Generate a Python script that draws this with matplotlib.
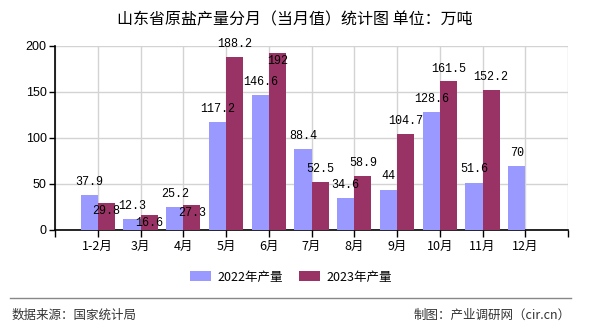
import numpy as np
import matplotlib.pyplot as plt
from matplotlib.lines import Line2D

plt.rcParams['font.family'] = ['Noto Sans CJK SC', 'DejaVu Sans']

months = ["1-2月", "3月", "4月", "5月", "6月", "7月", "8月", "9月", "10月", "11月", "12月"]
prod_2022 = [37.9, 12.3, 25.2, 117.2, 146.6, 88.4, 34.6, 44, 128.6, 51.6, 70]
prod_2023 = [29.8, 16.6, 27.3, 188.2, 192, 52.5, 58.9, 104.7, 161.5, 152.2, None]
# 2023 labels that the source pushed below the bar top to dodge neighbours
label_below_2023 = [True, True, True, False, True, False, False, False, False, False, False]

c22 = "#9999FF"
c23 = "#993366"

fig = plt.figure(figsize=(5.9, 3.3), dpi=100)
ax = fig.add_axes([55 / 590, 1 - 230 / 330, 513 / 590, 184 / 330])

x = np.arange(len(months))
w = 0.4
ax.bar(x - w / 2, prod_2022, width=w, color=c22, label="2022年产量", zorder=3)
x23 = [i for i, v in enumerate(prod_2023) if v is not None]
v23 = [prod_2023[i] for i in x23]
ax.bar(np.array(x23) + w / 2, v23, width=w, color=c23, label="2023年产量", zorder=3)

lab_font = dict(family=['Liberation Mono', 'DejaVu Sans Mono'], fontsize=8.5, color="black")
for i, v in enumerate(prod_2022):
    ax.annotate(f"{v:g}", (i - w / 2, v), xytext=(0, 9.4), textcoords="offset points",
                ha="center", va="center", zorder=5, **lab_font)
for i in x23:
    v = prod_2023[i]
    dy = -5.8 if label_below_2023[i] else 9.0
    ax.annotate(f"{v:g}", (i + w / 2, v), xytext=(0, dy), textcoords="offset points",
                ha="center", va="center", zorder=5, **lab_font)

ax.set_xlim(-1, len(months))
ax.set_ylim(0, 200)
ax.set_yticks([0, 50, 100, 150, 200])
ax.set_xticks(np.arange(-1, len(months) + 1))
ax.set_xticklabels([""] + months + [""])
ax.tick_params(axis="x", length=5, width=1, direction="out", labelsize=9, pad=2)
ax.tick_params(axis="y", length=4, width=1, direction="out", labelsize=9, pad=2)
for t in ax.get_yticklabels():
    t.set_family(['Liberation Sans', 'DejaVu Sans'])

ax.grid(True, color="#d3d3d3", linewidth=1, zorder=0)
ax.spines["top"].set_visible(False)
ax.spines["right"].set_visible(False)
ax.spines["left"].set_color("black")
ax.spines["bottom"].set_color("black")
ax.spines["left"].set_linewidth(1.2)
ax.spines["bottom"].set_linewidth(1.2)

fig.text(0.5, 1 - 20 / 330, "山东省原盐产量分月（当月值）统计图 单位：万吨",
         ha="center", va="center", fontsize=11.5, color="black")

fig.legend(loc="center", bbox_to_anchor=(291 / 590, 1 - 277 / 330), ncol=2,
           frameon=False, fontsize=9, handlelength=1.7, handleheight=0.8,
           handletextpad=0.5, columnspacing=1.3)

fig.add_artist(Line2D([10 / 590, 571 / 590], [1 - 298 / 330, 1 - 298 / 330],
                      color="#888888", linewidth=1))
fig.text(12 / 590, 1 - 315 / 330, "数据来源：国家统计局", ha="left", va="center",
         fontsize=9, color="#333333")
fig.text(571 / 590, 1 - 315 / 330, "制图：产业调研网（cir.cn）", ha="right", va="center",
         fontsize=9, color="#333333")

fig.savefig("out.png", dpi=100)
